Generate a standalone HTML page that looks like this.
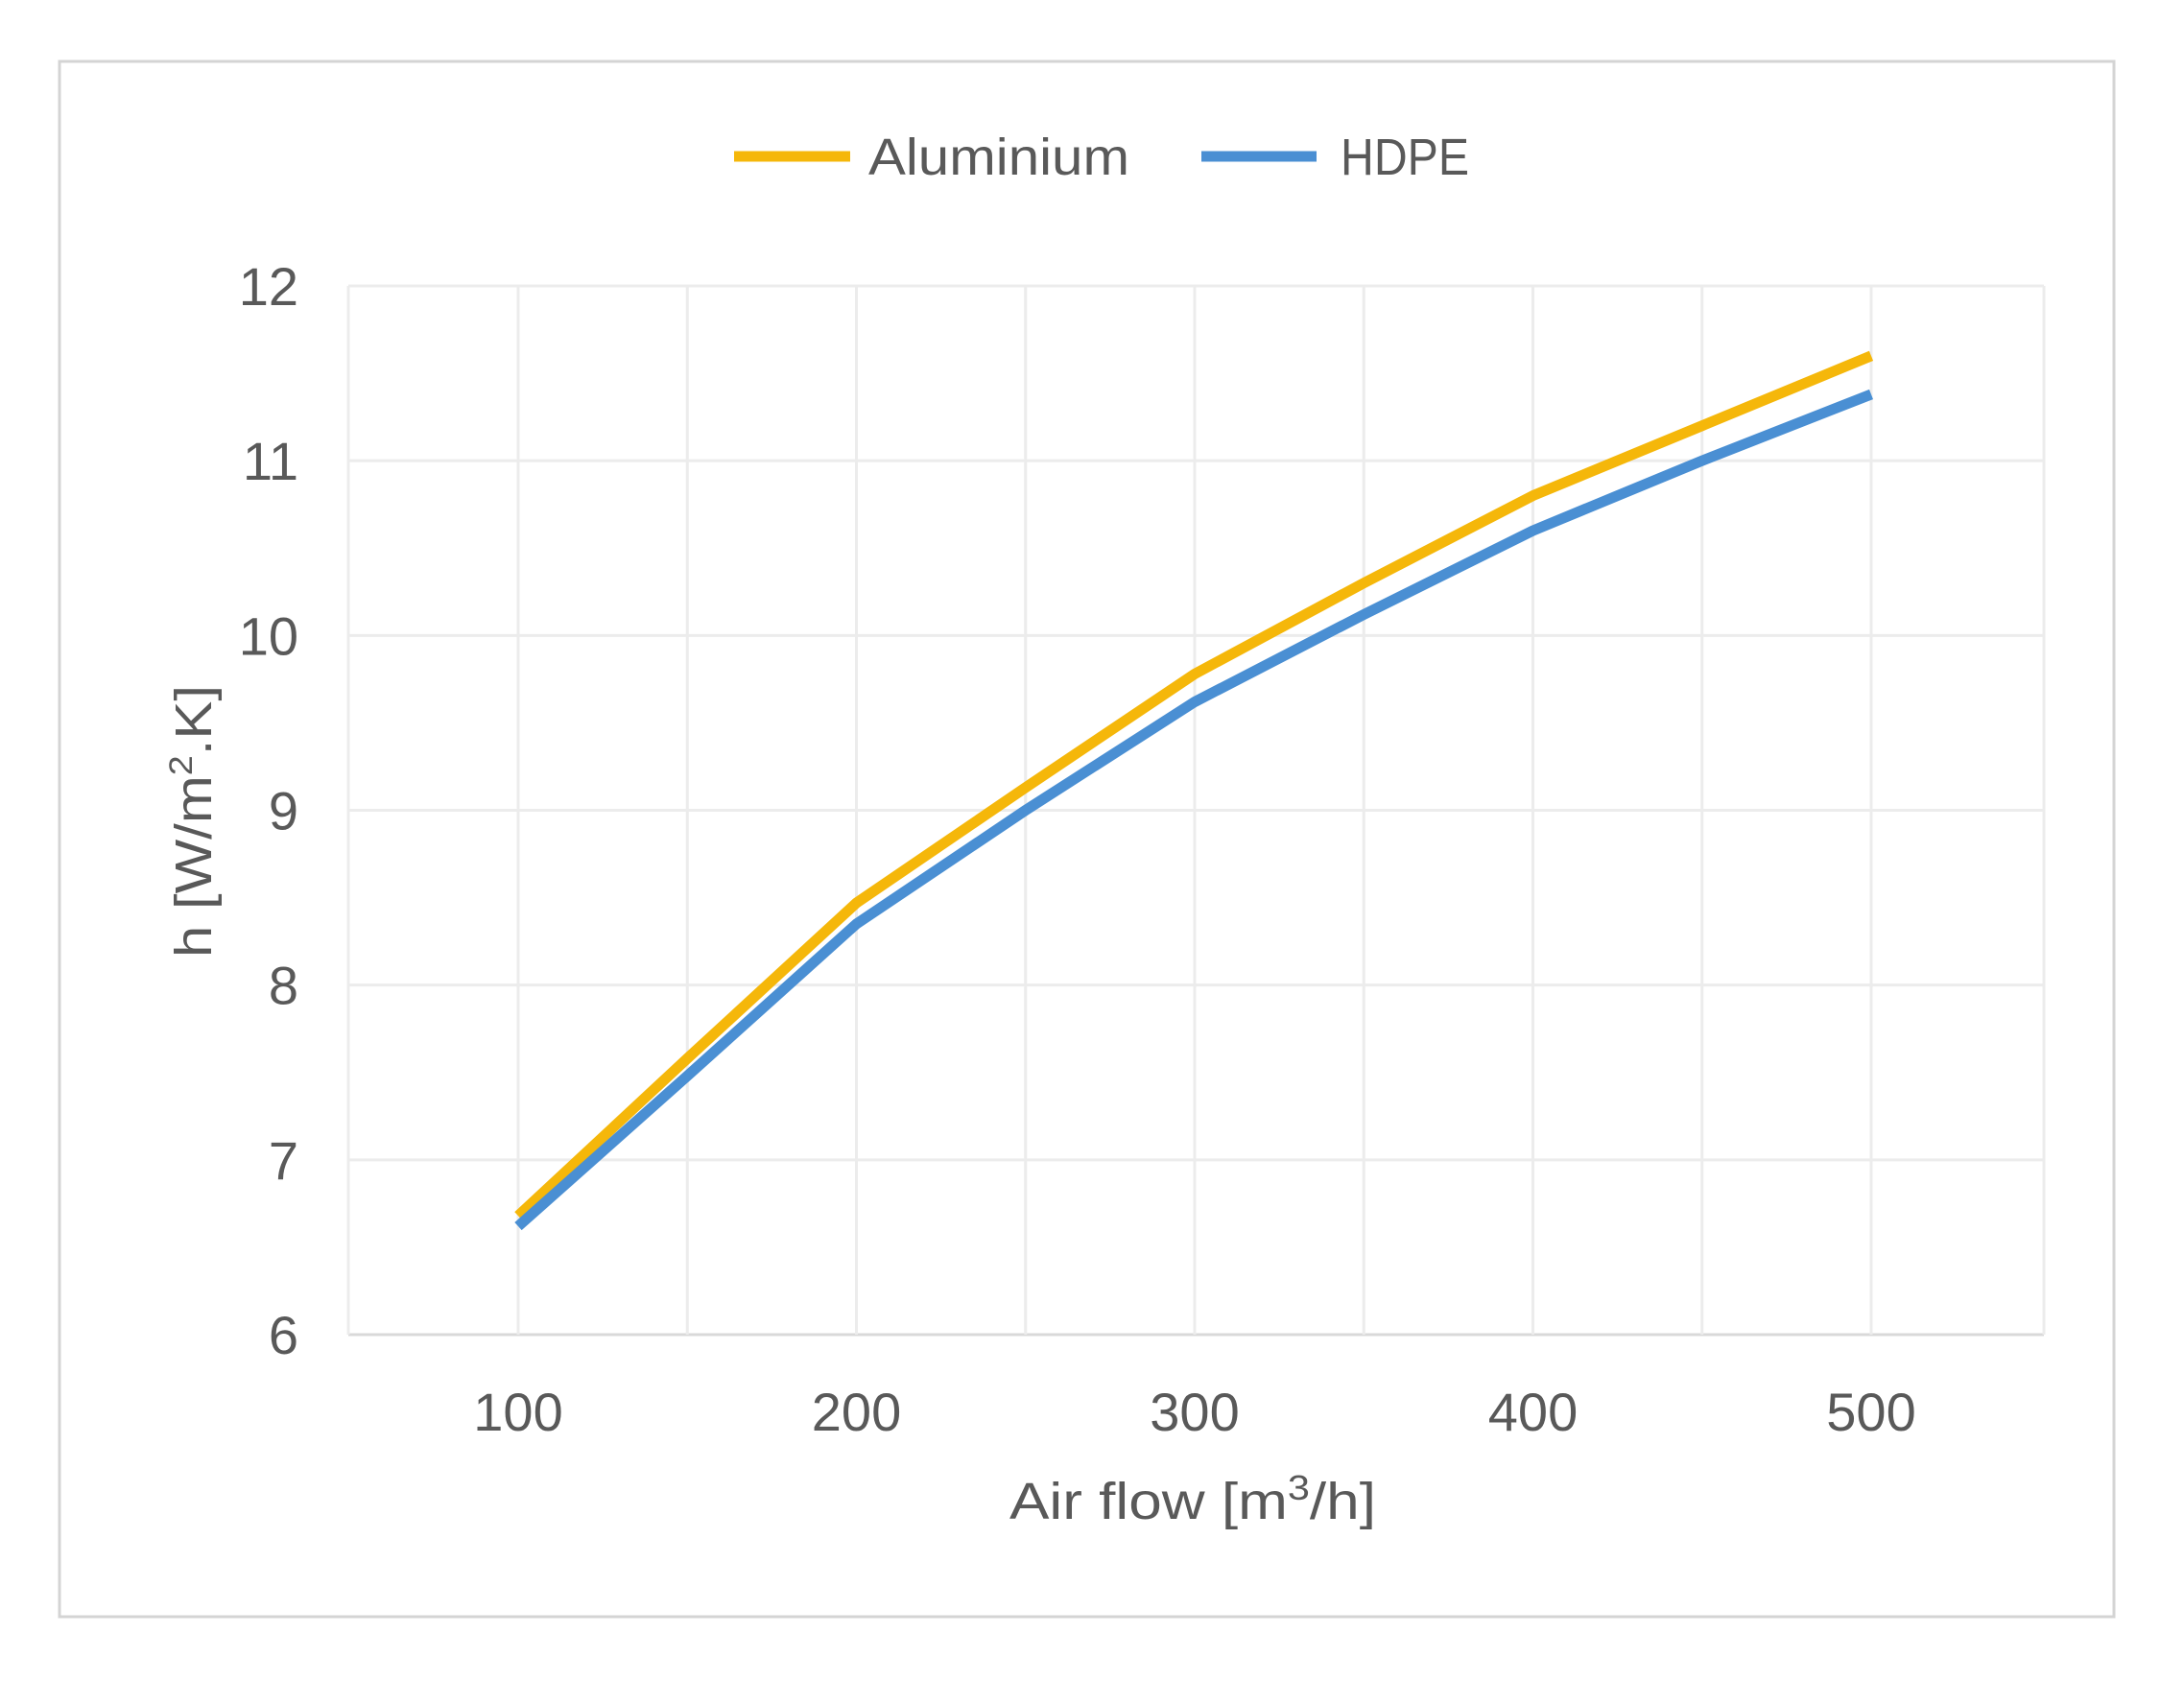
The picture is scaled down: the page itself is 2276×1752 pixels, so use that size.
<!DOCTYPE html>
<html><head><meta charset="utf-8"><style>
html,body{margin:0;padding:0;background:#fff;}
svg{display:block;font-family:"Liberation Sans",sans-serif;}
</style></head><body>
<svg id="chart" width="2276" height="1752" viewBox="0 0 2276 1752" xmlns="http://www.w3.org/2000/svg">
<rect x="62" y="64" width="2141" height="1621" fill="#fff" stroke="#d4d4d4" stroke-width="3"/>
<g id="grid"></g>
<g id="series"></g>
<g id="axes"></g>
<g>
<line x1="765" y1="163" x2="886" y2="163" stroke="#F5B70A" stroke-width="11"/>
<text x="905" y="182" font-size="54" fill="#595959" textLength="272" lengthAdjust="spacingAndGlyphs">Aluminium</text>
<line x1="1252" y1="163" x2="1372" y2="163" stroke="#4A8FD3" stroke-width="11"/>
<text x="1397" y="182" font-size="54" fill="#595959" textLength="134" lengthAdjust="spacingAndGlyphs">HDPE</text>
</g>
<text x="1052" y="1583" font-size="54" fill="#595959" textLength="382" lengthAdjust="spacingAndGlyphs">Air flow [m<tspan font-size="36" dy="-20">3</tspan><tspan dy="20">/h]</tspan></text>
<text transform="translate(220,998) rotate(-90)" font-size="54" fill="#595959" textLength="284" lengthAdjust="spacingAndGlyphs">h [W/m<tspan font-size="34" dy="-20">2</tspan><tspan dy="20">.K]</tspan></text>
</svg>
<script>
const xCategories = [100,150,200,250,300,350,400,450,500];
const aluminiumValues = [6.68,7.58,8.47,9.13,9.78,10.3,10.8,11.2,11.6];
const hdpeValues = [6.62,7.48,8.35,9.0,9.62,10.12,10.6,11.0,11.38];
const yTicks = [6,7,8,9,10,11,12];
const xTickLabels = [100,200,300,400,500];
const xGrid = [100,150,200,250,300,350,400,450,500];

const L=363,R=2130,T=298,B=1391;
const xs=v=>540+(v-100)*(1950-540)/400;
const ys=v=>B-(v-6)*(B-T)/6;
const NS='http://www.w3.org/2000/svg';
function mk(tag,parent,attrs){const e=document.createElementNS(NS,tag);for(const k in attrs)e.setAttribute(k,attrs[k]);parent.appendChild(e);return e;}
const grid=document.getElementById('grid'),axes=document.getElementById('axes'),series=document.getElementById('series');
yTicks.forEach(t=>{
  const g=mk('line',grid,{x1:L,x2:R,y1:ys(t),y2:ys(t),stroke:t===6?'#d9d9d9':'#ececec','stroke-width':3});
  
  
  const tx=mk('text',axes,{x:311,y:ys(t)+20,'font-size':56,fill:'#595959','text-anchor':'end'});
  tx.textContent=t;
  
  
});
const vl=mk('line',grid,{x1:L,x2:L,y1:T,y2:B,stroke:'#ececec','stroke-width':3});


xGrid.forEach(v=>{
  const g=mk('line',grid,{x1:xs(v),x2:xs(v),y1:T,y2:B,stroke:'#ececec','stroke-width':3});
  
  
});
const vr=mk('line',grid,{x1:R,x2:R,y1:T,y2:B,stroke:'#ececec','stroke-width':3});


xTickLabels.forEach(v=>{
  const tx=mk('text',axes,{x:xs(v),y:1491,'font-size':56,fill:'#595959','text-anchor':'middle'});
  tx.textContent=v;
  
  
});
function line(vals,color,name){
  const p=mk('polyline',series,{points:vals.map((v,i)=>xs(xCategories[i])+','+ys(v)).join(' '),fill:'none',stroke:color,'stroke-width':11,'stroke-linejoin':'round'});
  
  
}
line(aluminiumValues,'#F5B70A','aluminium-line');
line(hdpeValues,'#4A8FD3','hdpe-line');
</script>
</body></html>
